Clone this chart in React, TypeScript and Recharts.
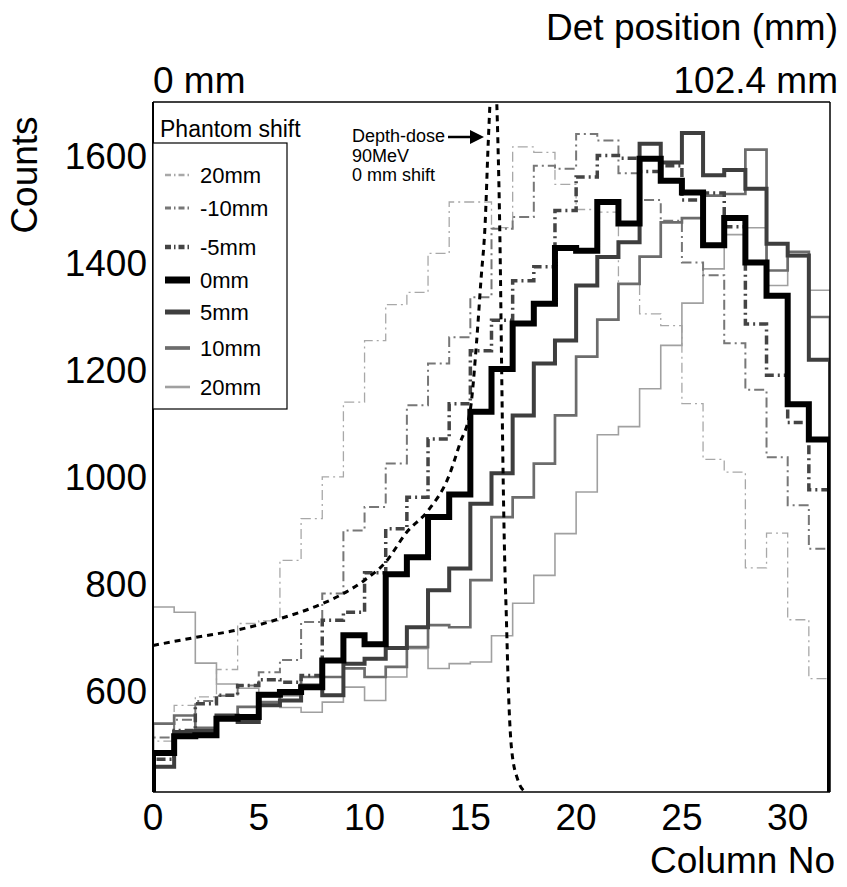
import React from 'react';
import { ComposedChart, Line, XAxis, YAxis, Legend } from 'recharts';

// column number of each histogram bin (left edge)
const columns = [0, 1, 2, 3, 4, 5, 6, 7, 8, 9, 10, 11, 12, 13, 14, 15, 16, 17, 18, 19, 20, 21, 22, 23, 24, 25, 26, 27, 28, 29, 30, 31];

// counts per column for each phantom shift
const shiftM20 = [505, 572, 588, 639, 725, 730, 843, 921, 999, 1139, 1254, 1321, 1344, 1417, 1513, 1513, 1465, 1616, 1606, 1546, 1499, 1494, 1360, 1304, 1282, 1136, 1032, 1008, 829, 894, 732, 622];
const shiftM10 = [512, 545, 580, 590, 609, 634, 657, 728, 781, 899, 943, 1024, 1133, 1211, 1260, 1335, 1463, 1485, 1581, 1575, 1640, 1628, 1567, 1517, 1478, 1400, 1376, 1249, 1162, 1036, 946, 865];
const shiftM5 = [471, 525, 575, 591, 609, 620, 615, 628, 731, 746, 820, 902, 961, 1070, 1136, 1235, 1292, 1366, 1392, 1497, 1560, 1600, 1595, 1570, 1581, 1517, 1530, 1467, 1285, 1189, 1101, 975];
const shift0 = [483, 514, 516, 547, 550, 592, 597, 606, 656, 703, 686, 817, 849, 924, 966, 1121, 1201, 1286, 1323, 1427, 1422, 1513, 1473, 1594, 1553, 1531, 1432, 1483, 1400, 1338, 1135, 1069];
const shift5 = [457, 522, 524, 553, 541, 572, 581, 609, 591, 650, 659, 679, 718, 787, 828, 949, 1006, 1114, 1211, 1254, 1357, 1410, 1438, 1622, 1587, 1642, 1563, 1573, 1538, 1435, 1413, 1218];
const shift10 = [538, 553, 530, 553, 569, 578, 591, 625, 625, 641, 625, 644, 681, 722, 718, 806, 924, 961, 1024, 1114, 1224, 1293, 1360, 1411, 1475, 1483, 1525, 1528, 1611, 1385, 1420, 1298];
const shift20 = [756, 746, 651, 612, 604, 588, 568, 559, 578, 606, 581, 625, 678, 641, 650, 653, 702, 763, 815, 893, 971, 1078, 1093, 1164, 1245, 1324, 1388, 1452, 1465, 1357, 1411, 1348];

// depth-dose curve, 90 MeV, 0 mm shift
const doseColumn = [0, 2, 4, 6, 8, 9, 10, 11, 12, 13, 14, 14.5, 15, 15.3, 15.5, 15.7, 15.85, 16.1, 16.3, 16.4, 16.48, 16.55, 16.62, 16.7, 16.8, 16.95, 17.25, 17.6];
const doseCounts = [684, 699, 713, 734, 762, 781, 806, 840, 896, 936, 1002, 1061, 1125, 1254, 1366, 1473, 1628, 1790, 1630, 1440, 1200, 1000, 850, 740, 600, 490, 432, 410];

const xTicks = [0, 5, 10, 15, 20, 25, 30];
const yTicks = [600, 800, 1000, 1200, 1400, 1600];
const topTicks = [0, 32];
const topLabels = ['0 mm', '102.4 mm'];

const FONT = '"Liberation Sans", Arial, Helvetica, sans-serif';
const Y_DOMAIN = [410, 1700];

const series = [
  { name: '20mm', values: shiftM20, stroke: '#a8a8a8', width: 1.3, dash: '10 4 2 4' },
  { name: '-10mm', values: shiftM10, stroke: '#777777', width: 2, dash: '10 4 2 4' },
  { name: '-5mm', values: shiftM5, stroke: '#444444', width: 3.5, dash: '9 4 2 4' },
  { name: '0mm', values: shift0, stroke: '#000000', width: 6, dash: undefined },
  { name: '5mm', values: shift5, stroke: '#3e3e3e', width: 4, dash: undefined },
  { name: '10mm', values: shift10, stroke: '#6c6c6c', width: 2.7, dash: undefined },
  { name: '20mm', values: shift20, stroke: '#a0a0a0', width: 1.6, dash: undefined },
];

// draw order: light ones below, black on top
const drawOrder = [0, 6, 1, 5, 2, 4, 3];

function histogram(values: number[]) {
  const pts = [{ col: 0, counts: 300 }];
  values.forEach((v, i) => pts.push({ col: columns[i], counts: v }));
  pts.push({ col: 32, counts: 300 });
  return pts;
}

const doseData = doseColumn.map((c, i) => ({ col: c, counts: doseCounts[i] }));

const TopTick = (props: any) => {
  const { x, index } = props;
  const first = index === 0;
  return (
    <text x={first ? x : x + 8} y={93} textAnchor={first ? 'start' : 'end'} fontSize={37} fontFamily={FONT} fill="#000">
      {topLabels[index]}
    </text>
  );
};

const legendY = [175, 208, 247, 280, 312, 348, 387];

const Overlay = () => (
  <svg width={847} height={887} style={{ position: 'absolute', left: 0, top: 0 }}>
    <text x={838} y={40} textAnchor="end" fontSize={37} fontFamily={FONT} fill="#000">Det position (mm)</text>
    <text transform="translate(37,175) rotate(-90)" textAnchor="middle" fontSize={37} fontFamily={FONT} fill="#000">Counts</text>
    <text x={835} y={873} textAnchor="end" fontSize={37} fontFamily={FONT} fill="#000">Column No</text>

    <text x={160} y={137} fontSize={23} fontFamily={FONT} fill="#000">Phantom shift</text>
    <rect x={153} y={143} width={134} height={266} fill="#fff" stroke="#000" strokeWidth={1.2} />
    {series.map((s, i) => (
      <g key={i}>
        <line x1={165} x2={190} y1={legendY[i]} y2={legendY[i]} stroke={s.stroke} strokeWidth={s.width + 1} strokeDasharray={s.dash ? '6 3 1.5 3' : undefined} />
        <text x={200} y={legendY[i] + 8} fontSize={22} fontFamily={FONT} fill="#000">{s.name}</text>
      </g>
    ))}

    <text fontSize={18} fontFamily={FONT} fill="#000">
      <tspan x={352} y={142}>Depth-dose</tspan>
      <tspan x={352} y={162}>90MeV</tspan>
      <tspan x={352} y={181}>0 mm shift</tspan>
    </text>
    <line x1={448} x2={472} y1={137} y2={137} stroke="#000" strokeWidth={2.5} />
    <polygon points="470,130 484,137 470,144" fill="#000" />
  </svg>
);

export default function App() {
  return (
    <div style={{ width: 847, height: 887, background: '#fff' }}>
      <style>{'body{margin:0}'}</style>
      <ComposedChart width={847} height={887} margin={{ top: 0, right: 0, bottom: 0, left: 0 }}>
        <XAxis
          xAxisId="b"
          dataKey="col"
          type="number"
          domain={[0, 32]}
          ticks={xTicks}
          allowDataOverflow
          height={95}
          tickSize={0}
          tickMargin={12}
          axisLine={{ stroke: '#000', strokeWidth: 1.5 }}
          tick={{ fontSize: 37, fill: '#000', fontFamily: FONT }}
        />
        <XAxis
          xAxisId="t"
          orientation="top"
          dataKey="col"
          type="number"
          domain={[0, 32]}
          ticks={topTicks}
          allowDataOverflow
          height={102}
          tickSize={0}
          axisLine={{ stroke: '#000', strokeWidth: 1.5 }}
          tick={<TopTick />}
        />
        <YAxis
          yAxisId="l"
          type="number"
          domain={Y_DOMAIN}
          ticks={yTicks}
          allowDataOverflow
          width={153}
          tickSize={0}
          tickMargin={6}
          axisLine={{ stroke: '#000', strokeWidth: 2 }}
          tick={{ fontSize: 37, fill: '#000', fontFamily: FONT }}
        />
        <YAxis
          yAxisId="r"
          orientation="right"
          type="number"
          domain={Y_DOMAIN}
          allowDataOverflow
          width={17}
          tick={false}
          tickLine={false}
          axisLine={{ stroke: '#000', strokeWidth: 1.5 }}
        />
        {drawOrder.map(i => {
          const s = series[i];
          return (
            <Line
              key={i}
              xAxisId="b"
              yAxisId="l"
              data={histogram(s.values)}
              dataKey="counts"
              type="stepAfter"
              stroke={s.stroke}
              strokeWidth={s.width}
              strokeDasharray={s.dash}
              dot={false}
              isAnimationActive={false}
            />
          );
        })}
        <Line
          xAxisId="b"
          yAxisId="l"
          data={doseData}
          dataKey="counts"
          type="monotone"
          stroke="#000"
          strokeWidth={3}
          strokeDasharray="6 5"
          dot={false}
          isAnimationActive={false}
        />
        <Legend
          layout="vertical"
          align="center"
          verticalAlign="middle"
          wrapperStyle={{ position: 'absolute', left: 0, top: 0, width: 847, height: 887, pointerEvents: 'none' }}
          content={() => <Overlay />}
        />
      </ComposedChart>
    </div>
  );
}
